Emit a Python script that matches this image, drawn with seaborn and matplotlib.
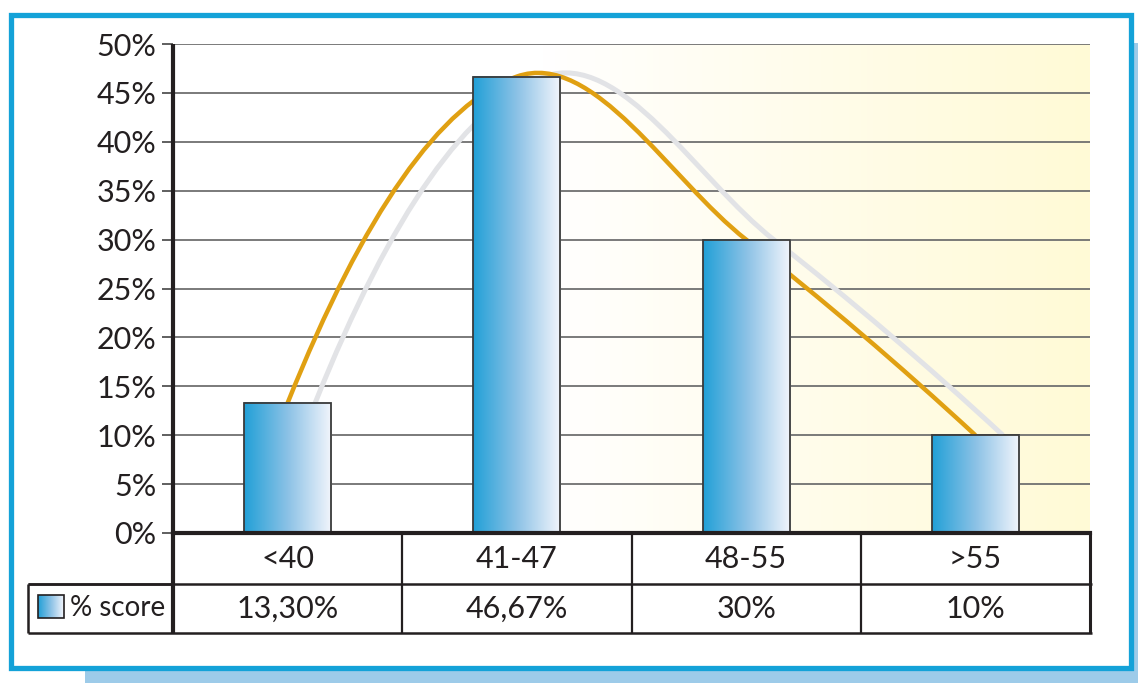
import numpy as np
import matplotlib
matplotlib.use("Agg")
import matplotlib.pyplot as plt
import matplotlib.transforms as mtransforms
from matplotlib.path import Path
from matplotlib.patches import PathPatch, Rectangle
from matplotlib.colors import LinearSegmentedColormap
import seaborn as sns

# data
categories = ["<40", "41-47", "48-55", ">55"]
scores = [13.30, 46.67, 30.0, 10.0]
score_labels = ["13,30%", "46,67%", "30%", "10%"]
series_name = "% score"
yticks = list(range(0, 51, 5))

sns.set_theme(style="white")
plt.rcParams["font.family"] = ["Lato", "DejaVu Sans"]

fig = plt.figure(figsize=(11.38, 6.83), dpi=100)
fig.patch.set_facecolor("white")

# blue frame with light blue shadow
fig.patches.append(Rectangle((85 / 1138, -0.05), 1.1, 1 - 43 / 683 + 0.05,
                             transform=fig.transFigure, facecolor="#9dcbe9",
                             edgecolor="none", zorder=-3))
fig.patches.append(Rectangle((10.5 / 1138, 1 - 667.5 / 683), 1120 / 1138, 653 / 683,
                             transform=fig.transFigure, facecolor="white",
                             edgecolor="#14a2d8", linewidth=3.8, zorder=-2))

ax = fig.add_axes([173 / 1138, 1 - 533 / 683, 917 / 1138, 489 / 683])
ax.patch.set_visible(False)

# cream gradient background
grad = np.clip((np.linspace(0, 1, 300) - 0.4) / 0.6, 0, 1)[None, :]
bg_cmap = LinearSegmentedColormap.from_list("bg", ["#ffffff", "#fffad6"])
ax.imshow(grad, cmap=bg_cmap, aspect="auto", extent=[0, 1, 0, 1],
          transform=ax.transAxes, zorder=0, vmin=0, vmax=1)

sns.barplot(x=categories, y=scores, order=categories, width=0.38, ax=ax,
            color="#4aaee0", edgecolor="#3a3a3a", linewidth=1.3, zorder=4)

bar_cmap = LinearSegmentedColormap.from_list("bar", ["#22a0d7", "#8cc2e6", "#f2f5fc"])
bar_grad = np.linspace(0, 1, 200)[None, :]
for bar in ax.patches:
    x0, w, h = bar.get_x(), bar.get_width(), bar.get_height()
    bar.set_facecolor("none")
    ax.imshow(bar_grad, cmap=bar_cmap, aspect="auto", extent=[x0, x0 + w, 0, h],
              zorder=3)

# smoothed curve (cubic Hermite through bar tops)
xs = np.arange(len(scores), dtype=float)
ys = np.array(scores, dtype=float)
m = np.zeros_like(ys)
m[1:-1] = (ys[2:] - ys[:-2]) / 2
m[0] = 2 * (ys[1] - ys[0]) - m[1]
m[-1] = 2 * (ys[-1] - ys[-2]) - m[-2]
verts = [(xs[0], ys[0])]
codes = [Path.MOVETO]
for i in range(len(xs) - 1):
    verts += [(xs[i] + 1 / 3, ys[i] + m[i] / 3),
              (xs[i + 1] - 1 / 3, ys[i + 1] - m[i + 1] / 3),
              (xs[i + 1], ys[i + 1])]
    codes += [Path.CURVE4] * 3
curve = Path(verts, codes)
shadow = Path(np.array(verts) + [0.12, 0], codes)
ax.add_patch(PathPatch(shadow, facecolor="none", edgecolor="#e2e3e6", lw=3.6, zorder=1.5))
ax.add_patch(PathPatch(curve, facecolor="none", edgecolor="#e0a012", lw=3.2, zorder=2))

ax.set_xlim(-0.5, 3.5)
ax.set_ylim(0, 50)
ax.set_yticks(yticks)
ax.set_yticklabels([f"{v}%" for v in yticks], fontsize=22, color="#231f20")
ax.set_xticks([])
ax.set_xlabel("")
ax.yaxis.grid(True, color="#707070", lw=1.3)
ax.set_axisbelow(True)
ax.tick_params(axis="y", left=True, length=8, width=1.2, color="#444444", pad=4)
for s in ["top", "right", "left"]:
    ax.spines[s].set_visible(False)
ax.spines["bottom"].set_color("#231f20")
ax.spines["bottom"].set_linewidth(3)
ax.spines["bottom"].set_zorder(5)

# data table below the axis
r1, r2 = -51 / 489, -100 / 489
blend = mtransforms.blended_transform_factory(ax.transData, ax.transAxes)
line_kw = dict(color="#231f20", clip_on=False, solid_capstyle="butt")
ax.plot([0, 0], [1, r2], transform=ax.transAxes, lw=3, zorder=6, **line_kw)
ax.plot([-0.158, 1.002], [r1, r1], transform=ax.transAxes, lw=1.8, **line_kw)
ax.plot([-0.158, 1.002], [r2, r2], transform=ax.transAxes, lw=1.8, **line_kw)
ax.plot([-0.158, 0], [r1, r1], transform=ax.transAxes, lw=1.8, **line_kw)
ax.plot([-0.158, -0.158], [r1, r2], transform=ax.transAxes, lw=1.8, **line_kw)
n = len(categories)
for k in range(1, n + 1):
    ax.plot([k - 0.5, k - 0.5], [0, r2], transform=blend,
            lw=2.2 if k == n else 1.6, **line_kw)
for i, (cat, lab) in enumerate(zip(categories, score_labels)):
    ax.text(i, r1 / 2, cat, transform=blend, ha="center", va="center",
            fontsize=22, color="#231f20")
    ax.text(i, (r1 + r2) / 2, lab, transform=blend, ha="center", va="center",
            fontsize=22, color="#231f20")

# legend key inside the table
ax.imshow(bar_grad, cmap=bar_cmap, aspect="auto",
          extent=[-0.147, -0.119, -0.174, -0.127], transform=ax.transAxes,
          clip_on=False, zorder=6)
ax.add_patch(Rectangle((-0.147, -0.174), 0.028, 0.047, transform=ax.transAxes,
                       facecolor="none", edgecolor="#231f20", lw=1.2,
                       clip_on=False, zorder=7))
ax.text(-0.112, (r1 + r2) / 2, series_name, transform=ax.transAxes,
        ha="left", va="center", fontsize=20, color="#231f20")

fig.savefig("out.png", dpi=100)
